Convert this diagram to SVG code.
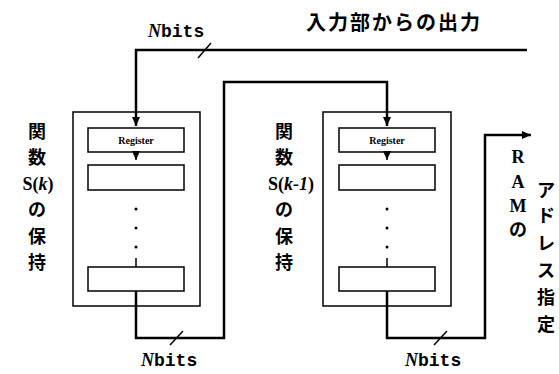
<svg xmlns="http://www.w3.org/2000/svg" width="559" height="374" viewBox="0 0 559 374">
<style>
.bg{fill:#fff}
.box{fill:#fff;stroke:#000;stroke-width:1.5}
.wire{fill:none;stroke:#000;stroke-width:2.5}
.thin{fill:none;stroke:#000;stroke-width:1.5}
.dot{fill:#000}
.jp{font-family:"Noto Sans CJK JP",sans-serif;font-weight:bold;font-size:18px;fill:#000;text-anchor:middle}
.ser{font-family:"Liberation Serif",serif;font-weight:bold;font-size:18px;fill:#000;text-anchor:middle}
.reg{font-family:"Liberation Serif",serif;font-weight:bold;font-size:10px;fill:#000;text-anchor:middle}
.nb{font-family:"Liberation Mono",monospace;font-weight:bold;font-size:18px;fill:#000}
.nbi{font-family:"Liberation Serif",serif;font-style:italic;font-weight:bold}
</style>
<defs>
<marker id="ah" markerWidth="10" markerHeight="10" refX="9" refY="5" orient="auto" markerUnits="userSpaceOnUse">
<path d="M0,1 L9,5 L0,9 Z" fill="#000"/>
</marker>
</defs>
<rect class="bg" x="0" y="0" width="559" height="374"/>

<g id="labels-top">
<text class="nb" x="148" y="37"><tspan class="nbi">N</tspan>bits</text>
<text class="jp" x="394" y="30" style="font-size:20px;letter-spacing:2px">入力部からの出力</text>
</g>

<g id="node-sk">
<rect class="box" x="73" y="112" width="127" height="194"/>
<rect class="box" x="88" y="128" width="96" height="24"/>
<text class="reg" x="136" y="144">Register</text>
<rect class="box" x="88" y="165" width="96" height="25"/>
<rect class="box" x="88" y="267" width="96" height="24"/>
<circle class="dot" cx="136" cy="209" r="1.5"/>
<circle class="dot" cx="136" cy="228" r="1.5"/>
<circle class="dot" cx="136" cy="247" r="1.5"/>
<line class="thin" x1="136" y1="258" x2="136" y2="267"/>
<line class="thin" x1="136" y1="152" x2="136" y2="160" marker-end="url(#ah)"/>
<text class="jp" x="37" y="138">関</text>
<text class="jp" x="37" y="164">数</text>
<text class="ser" x="38" y="190">S(<tspan font-style="italic">k</tspan>)</text>
<text class="jp" x="37" y="216">の</text>
<text class="jp" x="37" y="243">保</text>
<text class="jp" x="37" y="269">持</text>
</g>

<g id="node-sk1">
<rect class="box" x="323" y="112" width="128" height="194"/>
<rect class="box" x="339" y="128" width="96" height="24"/>
<text class="reg" x="387" y="144">Register</text>
<rect class="box" x="339" y="165" width="96" height="25"/>
<rect class="box" x="339" y="267" width="96" height="24"/>
<circle class="dot" cx="387" cy="209" r="1.5"/>
<circle class="dot" cx="387" cy="228" r="1.5"/>
<circle class="dot" cx="387" cy="247" r="1.5"/>
<line class="thin" x1="387" y1="258" x2="387" y2="267"/>
<line class="thin" x1="387" y1="152" x2="387" y2="160" marker-end="url(#ah)"/>
<text class="jp" x="284" y="138">関</text>
<text class="jp" x="284" y="164">数</text>
<text class="ser" x="291" y="190">S(<tspan font-style="italic">k-1</tspan>)</text>
<text class="jp" x="284" y="216">の</text>
<text class="jp" x="284" y="243">保</text>
<text class="jp" x="284" y="269">持</text>
</g>

<g id="label-ram">
<text class="ser" x="518" y="163">R</text>
<text class="ser" x="518" y="188">A</text>
<text class="ser" x="518" y="212">M</text>
<text class="jp" x="518" y="236">の</text>
<text class="jp" x="546" y="197">ア</text>
<text class="jp" x="546" y="222">ド</text>
<text class="jp" x="546" y="250">レ</text>
<text class="jp" x="546" y="277">ス</text>
<text class="jp" x="546" y="304">指</text>
<text class="jp" x="546" y="331">定</text>
</g>

<g id="connectors">
<polyline class="wire" points="527,50 136,50 136,126" marker-end="url(#ah)"/>
<line class="thin" x1="198" y1="58" x2="211" y2="43"/>
<polyline class="wire" points="136,291 136,338 224,338 224,82 387,82 387,126" marker-end="url(#ah)"/>
<line class="thin" x1="170" y1="345" x2="183" y2="331"/>
<polyline class="wire" points="387,291 387,338 485,338 485,135 531,135" marker-end="url(#ah)"/>
<line class="thin" x1="434" y1="345" x2="447" y2="331"/>
</g>

<g id="labels-bottom">
<text class="nb" x="141" y="366"><tspan class="nbi">N</tspan>bits</text>
<text class="nb" x="405" y="366"><tspan class="nbi">N</tspan>bits</text>
</g>
</svg>
